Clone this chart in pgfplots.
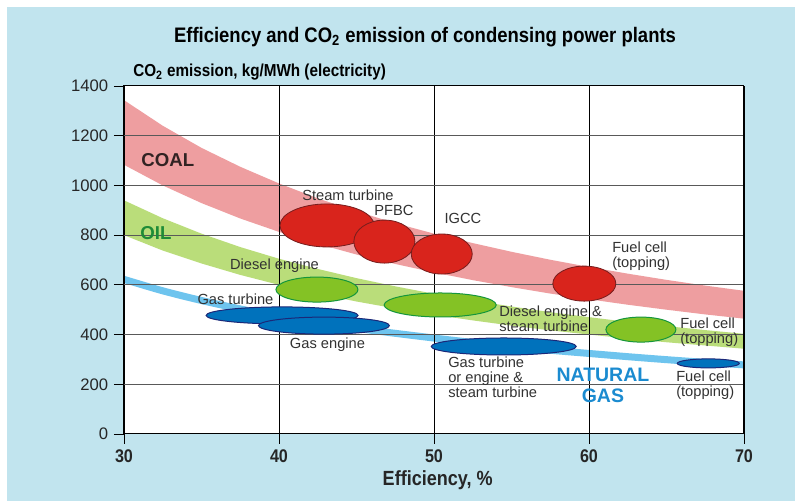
\documentclass[border=0pt]{standalone}
\usepackage{pgfplots}
\pgfplotsset{compat=1.18}
\usepackage{fontspec}
\setmainfont{Liberation Sans}
\newfontfamily\cond{Liberation Sans}[FakeStretch=0.88]
\definecolor{bgblue}{RGB}{193,228,238}
\definecolor{coalband}{RGB}{238,158,160}
\definecolor{oilband}{RGB}{186,221,122}
\definecolor{gasline}{RGB}{110,196,238}
\definecolor{redell}{RGB}{217,36,28}
\definecolor{redbord}{RGB}{120,30,30}
\definecolor{greenell}{RGB}{132,194,37}
\definecolor{greenbord}{RGB}{20,150,60}
\definecolor{blueell}{RGB}{0,114,188}
\definecolor{bluebord}{RGB}{27,40,120}
\definecolor{coaltxt}{RGB}{50,35,35}
\definecolor{oiltxt}{RGB}{30,140,55}
\definecolor{gastxt}{RGB}{27,139,208}
\definecolor{lbl}{RGB}{50,50,50}
\pgfplotsset{
  layers/withbg/.define layer set={
    bglayer, axis background, bands, axis grid, axis ticks, axis lines,
    axis tick labels, pre main, main, axis descriptions, axis foreground
  }{/pgfplots/layers/standard},
}
\begin{document}
\begin{tikzpicture}
\begin{axis}[
  at={(0,0)}, anchor=south west,
  scale only axis, width=372pt, height=208.8pt,
  xmin=30, xmax=70, ymin=0, ymax=1400,
  xtick={30,40,50,60,70}, ytick={0,200,400,600,800,1000,1200,1400},
  set layers=withbg,
  axis background/.style={fill=white},
  xmajorgrids, ymajorgrids,
  x grid style={black, line width=0.5pt},
  y grid style={black!65, line width=0.6pt},
  axis line style={black, line width=0.6pt},
  tick align=outside, xtick pos=bottom, ytick pos=left,
  major tick length=6pt,
  tick style={black, line width=0.5pt},
  /pgf/number format/assume math mode=true,
  /pgf/number format/1000 sep={},
  yticklabel style={font=\fontsize{10}{12}\selectfont, text=black!85},
  xticklabel style={font=\cond\bfseries\fontsize{11}{12}\selectfont, text=black!85},
  clip mode=individual,
]
\begin{pgfonlayer}{bglayer}
\fill[white] (rel axis cs:-0.2,-0.1925) rectangle (rel axis cs:1.0823,1.2471);
\fill[bgblue] (rel axis cs:-0.1887,-0.1925) rectangle (rel axis cs:1.0823,1.227);
\end{pgfonlayer}
% coal band
\addplot[on layer=bands, fill=coalband, draw=none] coordinates {
(30,1343) (32.5,1240) (35,1151) (37.5,1075) (40,1008) (42.5,948) (45,896) (47.5,848) (50,806) (52.5,768) (55,733) (57.5,701) (60,672) (62.5,645) (65,620) (67.5,597) (70,576)
(70,464) (67.5,481) (65,500) (62.5,520) (60,542) (57.5,565) (55,591) (52.5,619) (50,650) (47.5,684) (45,722) (42.5,765) (40,813) (37.5,867) (35,929) (32.5,1000) (30,1083)
} -- cycle;
% oil band
\addplot[on layer=bands, fill=oilband, draw=none] coordinates {
(30,940) (32.5,868) (35,806) (37.5,752) (40,705) (42.5,664) (45,627) (47.5,594) (50,564) (52.5,537) (55,513) (57.5,490) (60,470) (62.5,451) (65,434) (67.5,418) (70,403)
(70,343) (67.5,356) (65,369) (62.5,384) (60,400) (57.5,417) (55,436) (52.5,457) (50,480) (47.5,505) (45,533) (42.5,565) (40,600) (37.5,640) (35,686) (32.5,738) (30,800)
} -- cycle;
% gas line
\addplot[on layer=bands, gasline, line width=4.2pt, smooth] coordinates {
(30,622) (32.5,576) (35,537) (37.5,503) (40,474) (42.5,448) (45,425) (47.5,405) (50,386) (52.5,368) (55,352) (57.5,337) (60,324) (62.5,311) (65,299) (67.5,288) (70,278)
};
% red ellipses
\addplot[only marks, mark=*, mark size=12.9pt, mark options={xscale=2.19, fill=redell, draw=redbord, line width=0.5pt}] coordinates {(43.1,839)};
\addplot[only marks, mark=*, mark size=12.9pt, mark options={xscale=1.42, fill=redell, draw=redbord, line width=0.5pt}] coordinates {(46.8,774)};
\addplot[only marks, mark=*, mark size=12pt, mark options={xscale=1.525, fill=redell, draw=redbord, line width=0.5pt}] coordinates {(50.5,724)};
\addplot[only marks, mark=*, mark size=10.5pt, mark options={xscale=1.8, fill=redell, draw=redbord, line width=0.5pt}] coordinates {(59.7,605)};
% green ellipses
\addplot[only marks, mark=*, mark size=7.5pt, mark options={xscale=3.28, fill=greenell, draw=greenbord, line width=0.6pt}] coordinates {(42.45,581)};
\addplot[only marks, mark=*, mark size=7.2pt, mark options={xscale=4.67, fill=greenell, draw=greenbord, line width=0.6pt}] coordinates {(50.4,519)};
\addplot[only marks, mark=*, mark size=7.5pt, mark options={xscale=2.8, fill=greenell, draw=greenbord, line width=0.6pt}] coordinates {(63.35,420)};
% blue ellipses
\addplot[only marks, mark=*, mark size=5.1pt, mark options={xscale=8.94, fill=blueell, draw=bluebord, line width=0.6pt}] coordinates {(40.2,477)};
\addplot[only marks, mark=*, mark size=5.1pt, mark options={xscale=7.7, fill=blueell, draw=bluebord, line width=0.6pt}] coordinates {(42.9,436)};
\addplot[only marks, mark=*, mark size=5.1pt, mark options={xscale=8.53, fill=blueell, draw=bluebord, line width=0.6pt}] coordinates {(54.5,352)};
\addplot[only marks, mark=*, mark size=2.7pt, mark options={xscale=6.9, fill=blueell, draw=bluebord, line width=0.6pt}] coordinates {(67.7,284)};
% fuel labels
\node[anchor=west, inner sep=0pt, font=\bfseries\fontsize{11.2}{12}\selectfont, text=coaltxt] at (axis cs:31.1,1102) {COAL};
\node[anchor=west, inner sep=0pt, font=\bfseries\fontsize{11.2}{12}\selectfont, text=oiltxt] at (axis cs:31.03,808) {OIL};
\node[align=center, font=\bfseries\fontsize{11.7}{12.6}\selectfont, text=gastxt] at (axis cs:60.9,197) {NATURAL\\GAS};
% technology labels
\begin{scope}[every node/.style={font=\fontsize{8.8}{9}\selectfont, text=lbl, inner sep=0pt}]
\node at (axis cs:44.45,961) {Steam turbine};
\node at (axis cs:47.42,901) {PFBC};
\node at (axis cs:51.87,869) {IGCC};
\node[anchor=west, align=left] at (axis cs:61.48,714) {Fuel cell\\(topping)};
\node at (axis cs:39.71,676) {Diesel engine};
\node at (axis cs:37.19,543) {Gas turbine};
\node at (axis cs:43.13,358) {Gas engine};
\node[anchor=west, align=left] at (axis cs:54.19,465) {Diesel engine \&\\steam turbine};
\node[anchor=west, align=left] at (axis cs:65.87,410) {Fuel cell\\(topping)};
\node[anchor=west, align=left] at (axis cs:50.9,227) {Gas turbine\\or engine \&\\steam turbine};
\node[anchor=west, align=left] at (axis cs:65.61,197) {Fuel cell\\(topping)};
\end{scope}
% titles
\node[font=\cond\bfseries\fontsize{12.6}{14}\selectfont] at (rel axis cs:0.4855,1.141) {Efficiency and CO\textsubscript{2} emission of condensing power plants};
\node[anchor=west, inner sep=0pt, font=\cond\bfseries\fontsize{10.4}{12}\selectfont] at (rel axis cs:0.0145,1.040) {CO\textsubscript{2} emission, kg/MWh (electricity)};
\node[font=\cond\bfseries\fontsize{12.3}{13}\selectfont, text=black!85] at (rel axis cs:0.506,-0.132) {Efficiency, \%};
\end{axis}
\end{tikzpicture}
\end{document}
